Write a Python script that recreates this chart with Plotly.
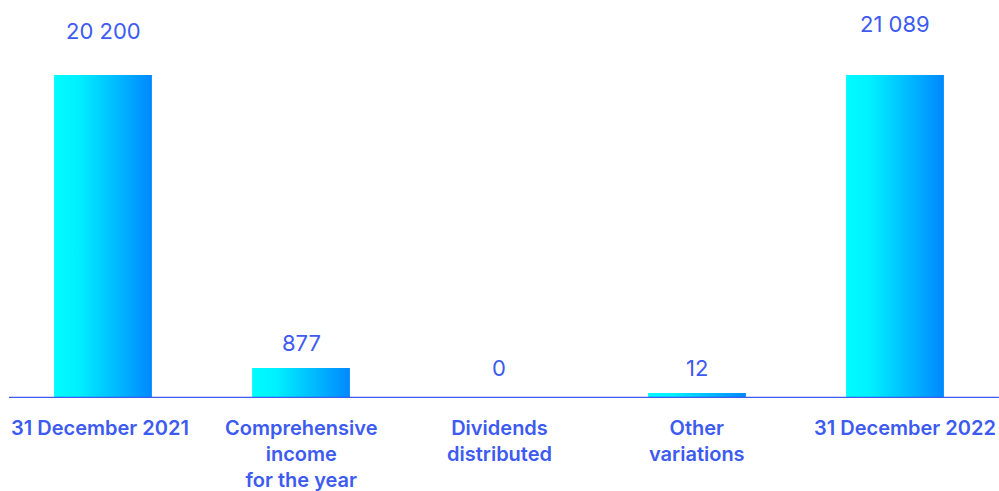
import plotly.graph_objects as go

# ---- data ----
categories = ["31 December 2021", "Comprehensive<br>income<br>for the year",
              "Dividends<br>distributed", "Other<br>variations", "31 December 2022"]
values = [20200, 877, 0, 12, 21089]
value_labels = ["20 200", "877", "0", "12", "21 089"]
# bar lengths as drawn in the (non-proportional) reference chart, in value units
bar_heights_shown = [20200, 1880, 0, 320, 20200]

# ---- style ----
TEXT = "#3D5AF1"
GRAD = [[0, "#00FCFF"], [0.25, "#00F0FF"], [1, "#0088FF"]]
half_w = 0.247
label_yshift = [44, 25, 30, 25, 51]
cat_xshift = [-3, 0, 0, 0, 10]

fig = go.Figure()
for i, h in enumerate(bar_heights_shown):
    if h <= 0:
        continue
    x0, x1 = i - half_w, i + half_w
    fig.add_trace(go.Scatter(
        x=[x0, x1, x1, x0, x0], y=[0, 0, h, h, 0],
        mode="lines", line=dict(width=0), fill="toself",
        fillgradient=dict(type="horizontal", colorscale=GRAD),
        hoverinfo="skip", showlegend=False))

for i, (h, lab) in enumerate(zip(bar_heights_shown, value_labels)):
    fig.add_annotation(x=i, y=h, text=lab, showarrow=False, yshift=label_yshift[i],
                       font=dict(family="Inter", size=22, color=TEXT),
                       xanchor="center", yanchor="middle")

for i, cat in enumerate(categories):
    fig.add_annotation(x=i, y=0, text=cat, showarrow=False, yshift=-16, xshift=cat_xshift[i],
                       font=dict(family="Inter", size=20, color=TEXT, weight=600),
                       xanchor="center", yanchor="top", align="center")

fig.add_shape(type="line", xref="paper", yref="y", x0=0.005, x1=1.005, y0=0, y1=0,
              line=dict(color=TEXT, width=2.5))

fig.update_layout(
    width=999, height=491,
    margin=dict(l=4, r=5, t=10, b=93, autoexpand=False),
    paper_bgcolor="white", plot_bgcolor="white",
    xaxis=dict(range=[-0.5, 4.5], showticklabels=False, showgrid=False, zeroline=False,
               showline=False, ticks="", automargin=False),
    yaxis=dict(range=[0, 24265], visible=False, showgrid=False, zeroline=False,
               automargin=False),
)

fig.write_html("out.html", config={"displayModeBar": False},
               post_script="document.body.style.margin='0';document.body.style.overflow='hidden';")
